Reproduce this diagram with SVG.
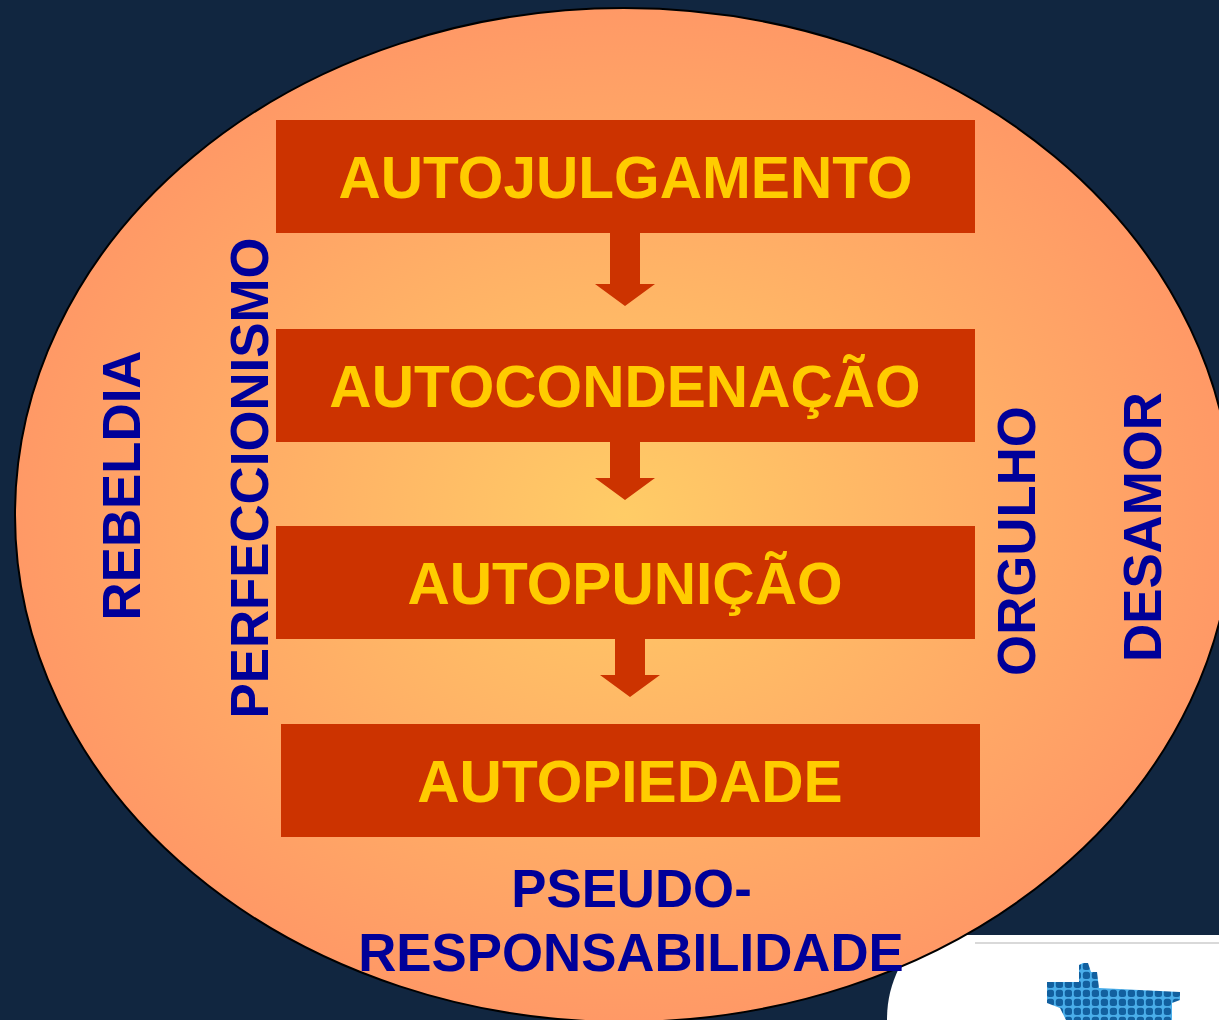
<svg xmlns="http://www.w3.org/2000/svg" width="1219" height="1020" viewBox="0 0 1219 1020">
<style>
.b{fill:#cc3300}
.t{font:bold 58.6px "Liberation Sans",Arial,sans-serif;fill:#ffcc00;text-anchor:middle}
.l{font:bold 52.8px "Liberation Sans",Arial,sans-serif;fill:#000099;text-anchor:middle}
</style>
<defs>
<radialGradient id="g" cx="50%" cy="50%" r="50%"><stop offset="0" stop-color="#ffcc66"/><stop offset="1" stop-color="#ff9966"/></radialGradient>
<pattern id="grid" width="9" height="9" patternUnits="userSpaceOnUse" x="1046" y="962"><rect width="9" height="9" fill="#4aaeea"/><rect x="0.800" y="0.800" width="7.200" height="7.200" rx="2.500" fill="#12609f"/></pattern>
</defs>
<rect width="1219" height="1020" fill="#112640"/>
<g id="corner"><path d="M887 1020C887 1000 891 985 899 968L940 935H1219V1020Z" fill="#fff"/><path d="M975 943H1219" stroke="#ccc" stroke-width="1.500"/></g>
<g id="circle"><ellipse cx="624" cy="515" rx="609" ry="507" fill="url(#g)" stroke="#000" stroke-width="2"/></g>
<g id="logo"><path d="M1047 982H1079V965L1083 963H1088L1091 972H1097L1099 988L1180 992V1000L1172 1003V1020H1066L1060 1008L1047 1003Z" fill="url(#grid)"/></g>
<g id="connectors">
<polygon class="b" points="610,233 640,233 640,284 655,284 625,306 595,284 610,284"/>
<polygon class="b" points="610,442 640,442 640,478 655,478 625,500 595,478 610,478"/>
<polygon class="b" points="615,639 645,639 645,675 660,675 630,697 600,675 615,675"/>
</g>
<g id="n1"><rect class="b" x="276" y="120" width="699" height="113"/><text class="t" x="625.500" y="198">AUTOJULGAMENTO</text></g>
<g id="n2"><rect class="b" x="276" y="329" width="699" height="113"/><text class="t" x="625" y="407">AUTOCONDENAÇÃO</text></g>
<g id="n3"><rect class="b" x="276" y="526" width="699" height="113"/><text class="t" x="625" y="604">AUTOPUNIÇÃO</text></g>
<g id="n4"><rect class="b" x="281" y="724" width="699" height="113"/><text class="t" x="630" y="802">AUTOPIEDADE</text></g>
<g id="rebeldia"><text class="l" transform="translate(140 485.500) rotate(-90)">REBELDIA</text></g>
<g id="perfeccionismo"><text class="l" transform="translate(268 478) rotate(-90)">PERFECCIONISMO</text></g>
<g id="orgulho"><text class="l" transform="translate(1035 541) rotate(-90)">ORGULHO</text></g>
<g id="desamor"><text class="l" transform="translate(1161 527) rotate(-90)">DESAMOR</text></g>
<g id="pseudo"><text class="l" x="631.500" y="907">PSEUDO-</text><text class="l" x="631" y="971">RESPONSABILIDADE</text></g>
</svg>
